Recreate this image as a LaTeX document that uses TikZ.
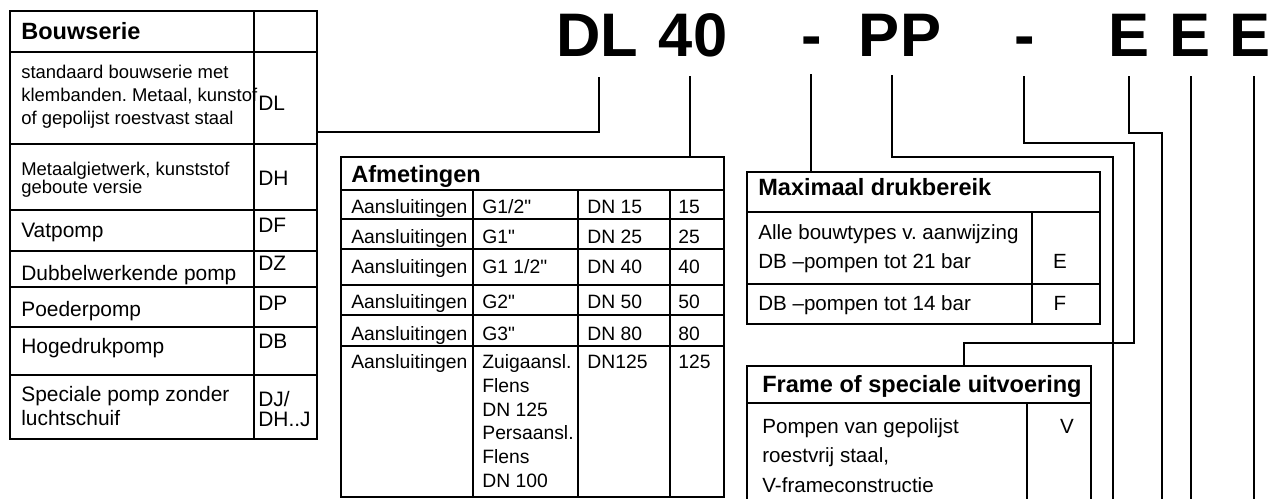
\documentclass[tikz,border=0pt]{standalone}
\usepackage{fontspec}
\setmainfont{Liberation Sans}
\usetikzlibrary{fit, calc}
\frenchspacing

\begin{document}
\begin{tikzpicture}[
    x=0.02cm, y=-0.02cm,
    box/.style={draw, line width=1.5pt, inner sep=0pt},
    rule/.style={line width=1.3pt},
    link/.style={line width=1.1pt},
    bigcode/.style={anchor=base, inner sep=0pt, font=\fontsize{35}{40}\selectfont\bfseries},
    head/.style={anchor=base west, inner sep=0pt, font=\fontsize{13.4}{16}\selectfont\bfseries},
    txt/.style={anchor=base west, inner sep=0pt, font=\fontsize{11.9}{14}\selectfont},
    smalltxt/.style={anchor=base west, inner sep=0pt, font=\fontsize{10.5}{12}\selectfont},
    celltxt/.style={anchor=base west, inner sep=0pt, font=\fontsize{11}{13}\selectfont},
    rtxt/.style={anchor=base west, inner sep=0pt, font=\fontsize{11.7}{14}\selectfont},
    tag/.style={anchor=base west, inner sep=0pt, font=\fontsize{11.9}{14}\selectfont},
    sym/.style={anchor=base, inner sep=0pt, font=\fontsize{11.7}{14}\selectfont}
]
    \useasboundingbox (0,0) rectangle (1270,498);
    \clip (0,0) rectangle (1270,498);

    % Type code
    \node[bigcode] (tDL) at (597,56) {DL};
    \node[bigcode] (t40) at (693,56) {40};
    \node[bigcode] (tM1) at (812,56) {-};
    \node[bigcode] (tPP) at (900,56) {PP};
    \node[bigcode] (tM2) at (1025,56) {-};
    \node[bigcode] (tE1) at (1129,56) {E};
    \node[bigcode] (tE2) at (1190,56) {E};
    \node[bigcode] (tE3) at (1250,56) {E};

    % Tables
    \node[box, fit={(10,11) (317,439)}] (bouw) {};
    \node[box, fit={(341,157) (724,497)}] (afm) {};
    \node[box, fit={(747,172) (1100,324)}] (maxd) {};
    \node[box, fit={(747,366) (1091,520)}] (frame) {};

    % Bouwserie
    \draw[rule] (254,11) -- (254,439);
    \foreach \y in {52,144,210,251,287,327,375}
        \draw[rule] (10,\y) -- (317,\y);
    \node[head] (bHead) at (21,39) {Bouwserie};
    \node[smalltxt] (b1a) at (21,78) {standaard bouwserie met};
    \node[smalltxt] (b1b) at (21,101) {klembanden. Metaal, kunstof};
    \node[smalltxt] (b1c) at (21,124) {of gepolijst roestvast staal};
    \node[tag] (cDL) at (258,110) {DL};
    \node[smalltxt] (b2a) at (21,175) {Metaalgietwerk, kunststof};
    \node[smalltxt] (b2b) at (21,193) {geboute versie};
    \node[tag] (cDH) at (258,185) {DH};
    \node[txt] (b3) at (21,237) {Vatpomp};
    \node[tag] (cDF) at (258,232) {DF};
    \node[txt] (b4) at (21,280) {Dubbelwerkende pomp};
    \node[tag] (cDZ) at (258,270) {DZ};
    \node[txt] (b5) at (21,316) {Poederpomp};
    \node[tag] (cDP) at (258,310) {DP};
    \node[txt] (b6) at (21,353) {Hogedrukpomp};
    \node[tag] (cDB) at (258,348) {DB};
    \node[txt] (b7a) at (21,401) {Speciale pomp zonder};
    \node[txt] (b7b) at (21,425) {luchtschuif};
    \node[tag] (cDJa) at (258,406) {DJ/};
    \node[tag] (cDJb) at (258,426) {DH..J};

    % Afmetingen
    \foreach \y in {190,219,249,285,315,346}
        \draw[rule] (341,\y) -- (724,\y);
    \foreach \x in {473,578,670}
        \draw[rule] (\x,190) -- (\x,497);
    \node[head] (aHead) at (351,182) {Afmetingen};
    \node[celltxt] (a1) at (351,213) {Aansluitingen};
    \node[celltxt] (a1g) at (482,213) {G1/2\textquotedbl};
    \node[celltxt] (a1d) at (587,213) {DN 15};
    \node[celltxt] (a1n) at (678,213) {15};
    \node[celltxt] (a2) at (351,243) {Aansluitingen};
    \node[celltxt] (a2g) at (482,243) {G1\textquotedbl};
    \node[celltxt] (a2d) at (587,243) {DN 25};
    \node[celltxt] (a2n) at (678,243) {25};
    \node[celltxt] (a3) at (351,273) {Aansluitingen};
    \node[celltxt] (a3g) at (482,273) {G1 1/2\textquotedbl};
    \node[celltxt] (a3d) at (587,273) {DN 40};
    \node[celltxt] (a3n) at (678,273) {40};
    \node[celltxt] (a4) at (351,308) {Aansluitingen};
    \node[celltxt] (a4g) at (482,308) {G2\textquotedbl};
    \node[celltxt] (a4d) at (587,308) {DN 50};
    \node[celltxt] (a4n) at (678,308) {50};
    \node[celltxt] (a5) at (351,340) {Aansluitingen};
    \node[celltxt] (a5g) at (482,340) {G3\textquotedbl};
    \node[celltxt] (a5d) at (587,340) {DN 80};
    \node[celltxt] (a5n) at (678,340) {80};
    \node[celltxt] (a6) at (351,368) {Aansluitingen};
    \node[celltxt] (a6g1) at (482,368) {Zuigaansl.};
    \node[celltxt] (a6g2) at (482,392) {Flens};
    \node[celltxt] (a6g3) at (482,416) {DN 125};
    \node[celltxt] (a6g4) at (482,439) {Persaansl.};
    \node[celltxt] (a6g5) at (482,463) {Flens};
    \node[celltxt] (a6g6) at (482,487) {DN 100};
    \node[celltxt] (a6d) at (587,368) {DN125};
    \node[celltxt] (a6n) at (678,368) {125};

    % Maximaal drukbereik
    \draw[rule] (747,212) -- (1100,212);
    \draw[rule] (747,284) -- (1100,284);
    \draw[rule] (1032,212) -- (1032,324);
    \node[head] (mHead) at (758,195) {Maximaal drukbereik};
    \node[rtxt] (m1a) at (758,239) {Alle bouwtypes v. aanwijzing};
    \node[rtxt] (m1b) at (758,268) {DB \textendash pompen tot 21 bar};
    \node[sym] (cE) at (1060,268) {E};
    \node[rtxt] (m2) at (758,310) {DB \textendash pompen tot 14 bar};
    \node[sym] (cF) at (1060,310) {F};

    % Frame of speciale uitvoering
    \draw[rule] (747,403) -- (1091,403);
    \draw[rule] (1027,403) -- (1027,520);
    \node[head] (fHead) at (762,392) {Frame of speciale uitvoering};
    \node[rtxt] (f1a) at (762,433) {Pompen van gepolijst};
    \node[rtxt] (f1b) at (762,462) {roestvrij staal,};
    \node[rtxt] (f1c) at (762,492) {V-frameconstructie};
    \node[sym] (cV) at (1067,433) {V};

    % Leader lines
    \coordinate (dDL) at (599,77);
    \coordinate (d40) at (690,76);
    \coordinate (dM1) at (811,74);
    \coordinate (dPP) at (892,75);
    \coordinate (dM2) at (1024,76);
    \coordinate (dE1) at (1129,76);
    \coordinate (dE2) at (1191,76);
    \coordinate (dE3) at (1254,76);
    \coordinate (ePP) at (1113,510);
    \coordinate (eE1) at (1162,510);
    \coordinate (eE2) at (1191,510);
    \coordinate (eE3) at (1254,510);

    \draw[link] (dDL) |- (bouw.east |- 0,132);
    \draw[link] (d40) -- (d40 |- afm.north);
    \draw[link] (dM1) -- (dM1 |- maxd.north);
    \draw[link] (dPP) |- (1113,157) -- (ePP);
    \draw[link] (dM2) |- (1134,143) -- (1134,343) -| (frame.north -| 964,0);
    \draw[link] (dE1) |- (1162,133) -- (eE1);
    \draw[link] (dE2) -- (eE2);
    \draw[link] (dE3) -- (eE3);
\end{tikzpicture}
\end{document}
